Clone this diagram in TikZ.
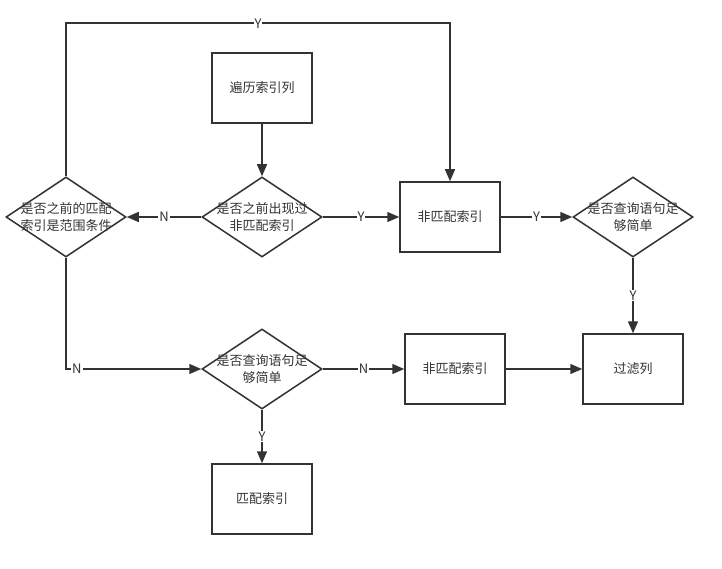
\documentclass[tikz,border=0pt]{standalone}
\usepackage{fontspec}
\setmainfont{Noto Sans CJK SC}
\usetikzlibrary{shapes.geometric,arrows.meta}
\definecolor{ink}{HTML}{333333}
\begin{document}
\begin{tikzpicture}[x=1pt,y=-1pt,>={Triangle[length=12pt,width=10pt]}]

% size of boxes and diamonds
\def\bw{100pt}
\def\bh{70pt}
\def\dw{120pt}
\def\dh{80pt}
% node style definition
\tikzstyle{block} = [
	draw=ink, line width=1.5pt, rectangle, text=ink,
	font=\fontsize{13}{17}\selectfont,
	minimum width=\bw, minimum height=\bh ];
\tikzstyle{choice} = [
	draw=ink, line width=1.5pt, diamond, inner sep=0pt,
	minimum width=\dw, minimum height=\dh ];
\tikzstyle{inside} = [text=ink, align=center, font=\fontsize{13}{17}\selectfont];
\tikzstyle{tag} = [fill=white, inner sep=1pt, text=ink, font=\fontsize{13}{15}\selectfont];
\tikzstyle{link} = [draw=ink, line width=1.5pt];

\useasboundingbox (0,0) rectangle (722,569);

\node[block] (scan) at (262,88) { 遍历索引列 };

\node[choice, label={[inside]center:是否之前的匹配\\索引是范围条件}] (c0) at (66,217) {};
\node[choice, label={[inside]center:是否之前出现过\\非匹配索引}] (c1) at (262,217) {};
\node[block] (b1) at (450,217) { 非匹配索引 };
\node[choice, label={[inside]center:是否查询语句足\\够简单}] (c2) at (633,217) {};

\node[choice, label={[inside]center:是否查询语句足\\够简单}] (c3) at (262,369) {};
\node[block] (b2) at (455,369) { 非匹配索引 };
\node[block] (filt) at (633,369) { 过滤列 };

\node[block] (match) at (262,499) { 匹配索引 };

\draw[link,->] (scan) -- (c1);
\draw[link,->] (c1) -- node[tag] {N} (c0);
\draw[link,->] (c1) -- node[tag] {Y} (b1);
\draw[link,->] (b1) -- node[tag] {Y} (c2);
\draw[link,->] (c2) -- node[tag] {Y} (filt);

\draw[link,->] (c0.north) -- ++(0,-153) -| node[tag,pos=0.25] {Y} (b1.north);
\draw[link,->] (c0.south) |- node[tag,pos=0.54] {N} (c3.west);

\draw[link,->] (c3) -- node[tag] {N} (b2);
\draw[link,->] (b2) -- (filt);
\draw[link,->] (c3) -- node[tag] {Y} (match);

\end{tikzpicture}
\end{document}
